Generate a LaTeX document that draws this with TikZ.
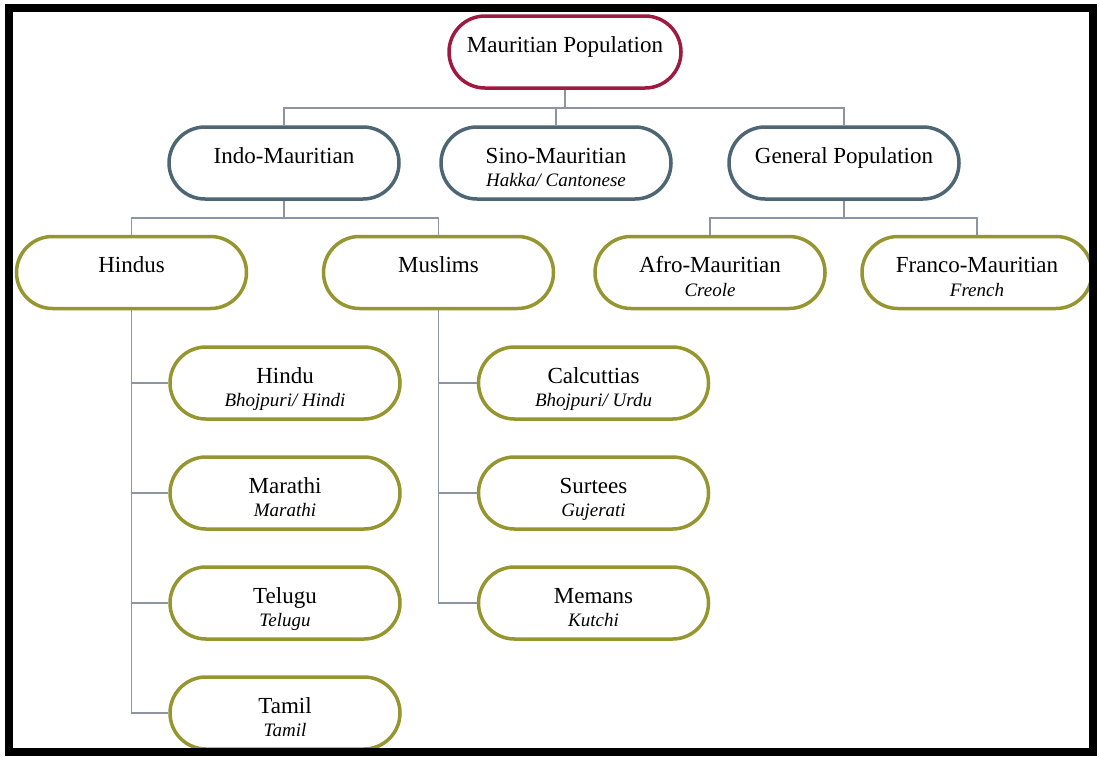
\documentclass[tikz,border=0pt]{standalone}
\usepackage{fontspec}
\setmainfont{Liberation Serif}
\usetikzlibrary{shapes.misc}
\definecolor{rootc}{RGB}{158,26,64}
\definecolor{lvtwo}{RGB}{78,102,116}
\definecolor{olivec}{RGB}{150,150,48}
\definecolor{linkc}{RGB}{140,150,162}
\newcommand{\mainf}{\fontsize{23}{27}\selectfont}
\newcommand{\subf}{\fontsize{19}{22}\selectfont\itshape}
\begin{document}
\begin{tikzpicture}[x=1pt,y=-1pt,
  box/.style={rounded rectangle, draw, line width=3.5pt, fill=white,
    minimum width=230pt, minimum height=72pt, inner sep=0pt,
    text height=0pt, text depth=0pt, font=\mainf},
  rootbox/.style={box, draw=rootc, minimum width=232pt},
  midbox/.style={box, draw=lvtwo},
  leafbox/.style={box, draw=olivec},
  sub/.style={label={[font=\subf, yshift=-19.5pt, inner sep=0pt, text height=12pt, text depth=4pt]center:#1}},
  link/.style={draw=linkc, line width=1.5pt}
]
\useasboundingbox (0,0) rectangle (1099,756);
\fill[white] (0,0) rectangle (1099,756);

\coordinate (busa) at (0,108);
\coordinate (busb) at (0,218);

% level 1
\node[rootbox] (root) at (565,52) {Mauritian Population};
% level 2
\node[midbox] (indo) at (284,163) {Indo-Mauritian};
\node[midbox, sub={Hakka/ Cantonese}] (sino) at (556,163) {Sino-Mauritian};
\node[midbox] (gen) at (844,163) {General Population};
% level 3
\node[leafbox] (hindus) at (131.5,272.5) {Hindus};
\node[leafbox] (muslims) at (438.5,272.5) {Muslims};
\node[leafbox, sub={Creole}] (afro) at (710,272.5) {Afro-Mauritian};
\node[leafbox, sub={French}] (franco) at (977,272.5) {Franco-Mauritian};
% level 4 hindus
\node[leafbox, sub={Bhojpuri/ Hindi}] (hindu) at (285,383) {Hindu};
\node[leafbox, sub={Marathi}] (marathi) at (285,493) {Marathi};
\node[leafbox, sub={Telugu}] (telugu) at (285,603) {Telugu};
\node[leafbox, sub={Tamil}] (tamil) at (285,713) {Tamil};
% level 4 muslims
\node[leafbox, sub={Bhojpuri/ Urdu}] (calc) at (593.5,383) {Calcuttias};
\node[leafbox, sub={Gujerati}] (surtees) at (593.5,493) {Surtees};
\node[leafbox, sub={Kutchi}] (memans) at (593.5,603) {Memans};

% connectors
\draw[link] (root.south) -- (root.south |- busa);
\draw[link] (indo.north) -- (indo.north |- busa) -- (gen.north |- busa) -- (gen.north);
\draw[link] (sino.north) -- (sino.north |- busa);

\draw[link] (indo.south) -- (indo.south |- busb);
\draw[link] (hindus.north) -- (hindus.north |- busb) -- (muslims.north |- busb) -- (muslims.north);
\draw[link] (gen.south) -- (gen.south |- busb);
\draw[link] (afro.north) -- (afro.north |- busb) -- (franco.north |- busb) -- (franco.north);

\draw[link] (hindus.south) |- (tamil.west);
\draw[link] (hindus.south |- hindu.west) -- (hindu.west);
\draw[link] (hindus.south |- marathi.west) -- (marathi.west);
\draw[link] (hindus.south |- telugu.west) -- (telugu.west);

\draw[link] (muslims.south) |- (memans.west);
\draw[link] (muslims.south |- calc.west) -- (calc.west);
\draw[link] (muslims.south |- surtees.west) -- (surtees.west);

% frame
\draw[line width=8pt] (9,8) rectangle (1093,752);
\end{tikzpicture}
\end{document}
